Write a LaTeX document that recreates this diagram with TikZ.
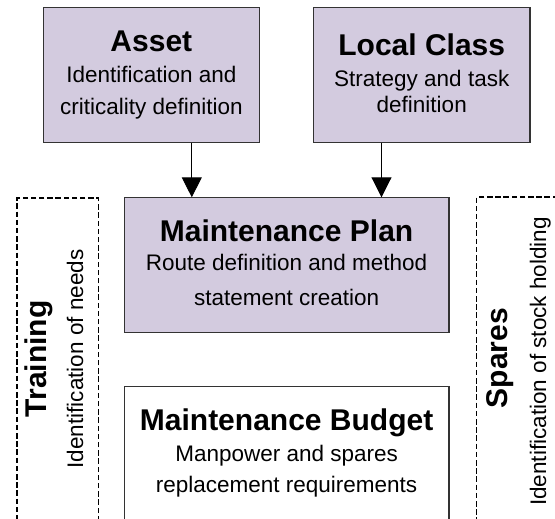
\documentclass[tikz,border=0pt]{standalone}
\usepackage{fontspec}
\setmainfont{Liberation Sans}
\usetikzlibrary{arrows.meta}
\definecolor{lav}{RGB}{211,203,223}
\begin{document}
\begin{tikzpicture}[x=1pt,y=-1pt,
  box/.style={draw=black!80, line width=1.1pt, inner sep=0pt, outer sep=0pt},
  filledbox/.style={box, fill=lav},
  sidebox/.style={draw=black, line width=1.1pt, dash pattern=on 5.5pt off 2.7pt, inner sep=0pt, outer sep=0pt},
  title/.style={font=\fontsize{30}{36}\selectfont\bfseries, anchor=base, inner sep=0pt},
  sub/.style={font=\fontsize{22.5}{27}\selectfont, anchor=base, inner sep=0pt},
  link/.style={draw=black, line width=0.9pt, -{Triangle[length=20pt,width=20pt]}}]
\useasboundingbox (0,0) rectangle (555,519);
\clip (0,0) rectangle (555,519);

% boxes
\node[filledbox, minimum width=216.3pt, minimum height=135.4pt] (asset) at (151.35,75) {};
\node[filledbox, minimum width=216.5pt, minimum height=135.4pt] (localclass) at (421.75,75) {};
\node[filledbox, minimum width=324.8pt, minimum height=135pt] (plan) at (286.6,264.8) {};
\node[box, fill=white, minimum width=324.8pt, minimum height=143.3pt] (budget) at (286.6,458.35) {};
\node[sidebox, minimum width=81.4pt, minimum height=332pt] (training) at (57.7,364) {};
\node[sidebox, minimum width=83.3pt, minimum height=333pt] (spares) at (518.35,363.5) {};

% box texts
\node[title] (asset-t) at (151.35,51.7) {Asset};
\node[sub] (asset-1) at (151.35,82.7) {Identification and};
\node[sub] (asset-2) at (151.35,115) {criticality definition};

\node[title] (lc-t) at (421.75,55.5) {Local Class};
\node[sub] (lc-1) at (421.75,86.3) {Strategy and task};
\node[sub] (lc-2) at (421.75,113) {definition};

\node[title] (plan-t) at (286.6,241) {Maintenance Plan};
\node[sub] (plan-1) at (286.6,270.5) {Route definition and method};
\node[sub] (plan-2) at (286.6,305) {statement creation};

\node[title] (budget-t) at (286.6,430) {Maintenance Budget};
\node[sub] (budget-1) at (286.6,461.5) {Manpower and spares};
\node[sub] (budget-2) at (286.6,492.5) {replacement requirements};

% side panels, vertical text
\node[title, rotate=90] (training-t) at (46,359) {Training};
\node[sub, rotate=90] (training-1) at (83,359) {Identification of needs};
\node[title, rotate=90] (spares-t) at (507,358) {Spares};
\node[sub, rotate=90] (spares-1) at (546,361.5) {Identification of stock holding};

% connectors
\coordinate (ax) at (191.8,0);
\coordinate (lx) at (381.5,0);
\draw[link] (asset.south -| ax) -- (plan.north -| ax);
\draw[link] (localclass.south -| lx) -- (plan.north -| lx);
\end{tikzpicture}
\end{document}
